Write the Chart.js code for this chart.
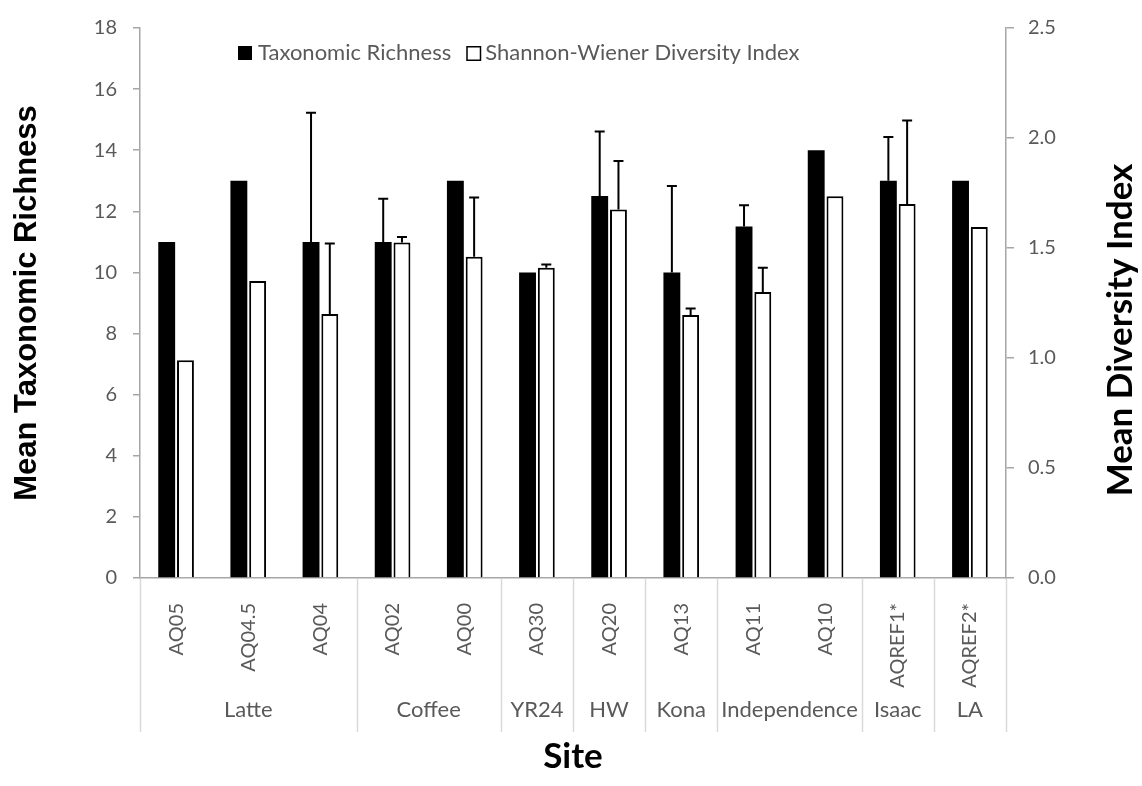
<!DOCTYPE html>
<html>
<head>
<meta charset="utf-8">
<script src="https://cdn.jsdelivr.net/npm/chart.js@4.4.1/dist/chart.umd.min.js"></script>
<style>
  html, body { margin: 0; padding: 0; background: #fff; }
  #wrap { width: 1142px; height: 786px; position: relative; }
</style>
</head>
<body>
<div id="wrap"><canvas id="siteChart"></canvas></div>
<script>
const sites = ['AQ05', 'AQ04.5', 'AQ04', 'AQ02', 'AQ00', 'AQ30', 'AQ20', 'AQ13', 'AQ11', 'AQ10', 'AQREF1*', 'AQREF2*'];
const groupNames = ['Latte', 'Coffee', 'YR24', 'HW', 'Kona', 'Independence', 'Isaac', 'LA'];
const groupSizes = [3, 2, 1, 1, 1, 2, 1, 1];

const richness    = [11, 13, 11, 11, 13, 10, 12.5, 10, 11.5, 14, 13, 13];
const richnessErr = [0, 0, 4.23, 1.41, 0, 0, 2.11, 2.83, 0.7, 0, 1.43, 0];
const diversity    = [0.99, 1.35, 1.2, 1.525, 1.46, 1.41, 1.675, 1.195, 1.3, 1.735, 1.7, 1.595];
const diversityErr = [0, 0, 0.32, 0.025, 0.27, 0.015, 0.22, 0.03, 0.11, 0, 0.38, 0];

const richTicks = [0, 2, 4, 6, 8, 10, 12, 14, 16, 18];
const divTicks  = [0, 0.5, 1, 1.5, 2, 2.5];

const GREY_TEXT = '#595959';
const AXIS_GREY = '#a6a6a6';
const SEP_GREY  = '#d9d9d9';
const tickFont = { family: 'Lato', size: 20 };

// error bars (positive side only), drawn on top of each bar
const errorBars = {
  id: 'errorBars',
  afterDatasetsDraw(chart) {
    const ctx = chart.ctx;
    const errs = [richnessErr, diversityErr];
    ctx.save();
    ctx.strokeStyle = '#000';
    ctx.lineWidth = 2;
    chart.data.datasets.forEach((ds, di) => {
      const meta = chart.getDatasetMeta(di);
      const scale = chart.scales[ds.yAxisID];
      meta.data.forEach((bar, i) => {
        const e = errs[di][i];
        if (!e) return;
        const yTop = scale.getPixelForValue(ds.data[i] + e);
        ctx.beginPath();
        ctx.moveTo(bar.x, bar.y);
        ctx.lineTo(bar.x, yTop);
        ctx.moveTo(bar.x - 5, yTop);
        ctx.lineTo(bar.x + 5, yTop);
        ctx.stroke();
      });
    });
    ctx.restore();
  }
};

// legend, axis titles, site groups
const decorations = {
  id: 'decorations',
  afterDraw(chart) {
    const ctx = chart.ctx;
    const area = chart.chartArea;
    const x = chart.scales.x;
    ctx.save();

    // legend inside the plot
    ctx.font = '22px Lato';
    ctx.textBaseline = 'middle';
    ctx.textAlign = 'left';
    const ly = area.top + 25;
    let lx = 238;
    ctx.fillStyle = '#000';
    ctx.fillRect(lx, ly - 7, 14, 14);
    ctx.fillStyle = GREY_TEXT;
    ctx.fillText(chart.data.datasets[0].label, lx + 20, ly);
    lx += 20 + ctx.measureText(chart.data.datasets[0].label).width + 15;
    ctx.strokeStyle = '#000';
    ctx.lineWidth = 1.5;
    ctx.fillStyle = '#fff';
    ctx.fillRect(lx, ly - 7, 15, 15);
    ctx.strokeRect(lx + 0.75, ly - 6.25, 13.5, 13.5);
    ctx.fillStyle = GREY_TEXT;
    ctx.fillText(chart.data.datasets[1].label, lx + 19, ly);

    // group separators and group names under the site labels
    const half = (x.getPixelForValue(1) - x.getPixelForValue(0)) / 2;
    ctx.strokeStyle = SEP_GREY;
    ctx.lineWidth = 1.5;
    ctx.font = '22px Lato';
    let start = 0;
    const edges = [area.left];
    groupSizes.forEach((n, g) => {
      const left = x.getPixelForValue(start) - half;
      const right = x.getPixelForValue(start + n - 1) + half;
      edges.push(right);
      ctx.fillStyle = GREY_TEXT;
      ctx.textAlign = 'center';
      ctx.fillText(groupNames[g], (left + right) / 2, area.bottom + 132);
      start += n;
    });
    edges.forEach(ex => {
      ctx.beginPath();
      ctx.moveTo(Math.round(ex) + 0.5, area.bottom + 1);
      ctx.lineTo(Math.round(ex) + 0.5, area.bottom + 154);
      ctx.stroke();
    });

    // axis titles
    ctx.fillStyle = '#000';
    ctx.textAlign = 'center';
    ctx.font = 'bold 31px "Liberation Sans"';
    ctx.save();
    ctx.translate(27, (area.top + area.bottom) / 2);
    ctx.rotate(-Math.PI / 2);
    ctx.fillText('Mean Taxonomic Richness', 0, 0);
    ctx.restore();

    ctx.font = 'bold 35px Lato';
    ctx.save();
    ctx.translate(1121, 330);
    ctx.rotate(-Math.PI / 2);
    ctx.fillText('Mean Diversity Index', 0, 0);
    ctx.restore();

    ctx.fillText('Site', (area.left + area.right) / 2, 757);
    ctx.restore();
  }
};

new Chart(document.getElementById('siteChart'), {
  type: 'bar',
  data: {
    labels: sites,
    datasets: [
      {
        label: 'Taxonomic Richness',
        data: richness,
        yAxisID: 'y',
        backgroundColor: '#000',
        categoryPercentage: 0.52,
        barPercentage: 0.9
      },
      {
        label: 'Shannon-Wiener Diversity Index',
        data: diversity,
        yAxisID: 'y1',
        backgroundColor: '#fff',
        borderColor: '#000',
        borderWidth: 2,
        categoryPercentage: 0.52,
        barPercentage: 0.9
      }
    ]
  },
  options: {
    responsive: true,
    maintainAspectRatio: false,
    animation: false,
    layout: { padding: { top: 20, left: 0, right: 0, bottom: 0 } },
    plugins: {
      legend: { display: false },
      tooltip: { enabled: false }
    },
    scales: {
      x: {
        grid: { display: false },
        border: { color: AXIS_GREY, width: 1.5 },
        ticks: { minRotation: 90, maxRotation: 90, padding: 17, color: GREY_TEXT, font: tickFont, autoSkip: false },
        afterFit: s => { s.height = 208; }
      },
      y: {
        position: 'left',
        min: 0, max: 18,
        afterBuildTicks: s => { s.ticks = richTicks.map(v => ({ value: v })); },
        ticks: { padding: 16, color: GREY_TEXT, font: tickFont },
        grid: { drawOnChartArea: false, tickLength: 7, color: AXIS_GREY, lineWidth: 1.5 },
        border: { color: AXIS_GREY, width: 1.5 },
        afterFit: s => { s.width = 140; }
      },
      y1: {
        position: 'right',
        min: 0, max: 2.5,
        afterBuildTicks: s => { s.ticks = divTicks.map(v => ({ value: v })); },
        ticks: { padding: 14, color: GREY_TEXT, font: tickFont, callback: v => v.toFixed(1) },
        grid: { drawOnChartArea: false, tickLength: 8, color: AXIS_GREY, lineWidth: 1.5 },
        border: { color: AXIS_GREY, width: 1.5 },
        afterFit: s => { s.width = 136; }
      }
    }
  },
  plugins: [errorBars, decorations]
});
</script>
</body>
</html>
